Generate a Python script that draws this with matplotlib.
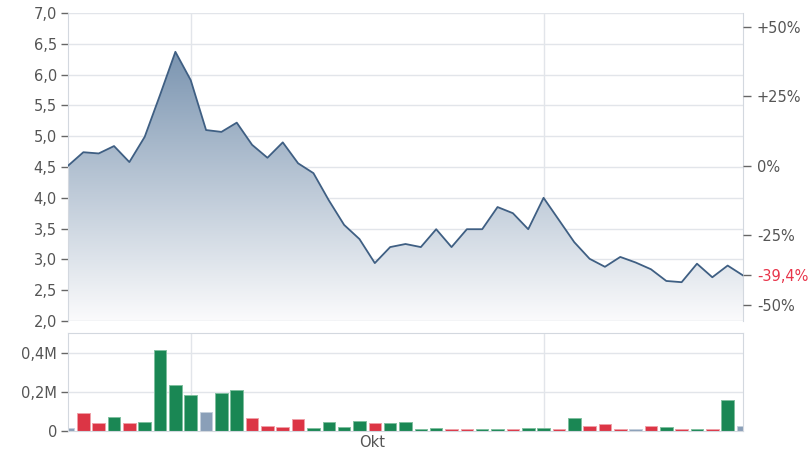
import matplotlib
matplotlib.use("Agg")
import matplotlib.pyplot as plt
import numpy as np
from matplotlib.colors import LinearSegmentedColormap
from matplotlib.patches import Polygon

prices = [4.52, 4.74, 4.72, 4.84, 4.58, 4.99, 5.67, 6.37, 5.91, 5.10,
          5.07, 5.22, 4.86, 4.65, 4.90, 4.56, 4.40, 3.96, 3.56, 3.33,
          2.94, 3.20, 3.25, 3.20, 3.49, 3.20, 3.49, 3.49, 3.85, 3.75,
          3.49, 4.00, 3.64, 3.28, 3.01, 2.88, 3.04, 2.95, 2.84, 2.65,
          2.63, 2.93, 2.71, 2.90, 2.74]
volumes = [0.014, 0.090, 0.039, 0.069, 0.039, 0.046, 0.411, 0.234, 0.186, 0.096,
           0.196, 0.209, 0.064, 0.027, 0.020, 0.059, 0.014, 0.046, 0.020, 0.052,
           0.039, 0.039, 0.046, 0.010, 0.015, 0.010, 0.010, 0.010, 0.010, 0.010,
           0.015, 0.015, 0.010, 0.064, 0.027, 0.034, 0.010, 0.008, 0.027, 0.020,
           0.010, 0.010, 0.010, 0.160, 0.027]
vol_dirs = ['n', 'r', 'r', 'g', 'r', 'g', 'g', 'g', 'g', 'n',
            'g', 'g', 'r', 'r', 'r', 'r', 'g', 'g', 'g', 'g',
            'r', 'g', 'g', 'g', 'g', 'r', 'r', 'g', 'g', 'r',
            'g', 'g', 'r', 'g', 'r', 'r', 'r', 'n', 'r', 'g',
            'r', 'g', 'r', 'g', 'n']
pct_ticks = [0.50, 0.25, 0.0, -0.25, -0.394, -0.50]
pct_labels = ['+50%', '+25%', '0%', '-25%', '-39,4%', '-50%']
price_ticks = [2.0, 2.5, 3.0, 3.5, 4.0, 4.5, 5.0, 5.5, 6.0, 6.5, 7.0]
vol_ticks = [0, 0.2, 0.4]
vol_labels = ['0', '0,2M', '0,4M']
month_label = 'Okt'
month_pos = 19.8
vgrid_pos = [8, 31]

base = prices[0]
x = np.arange(len(prices))
grid_c = '#e2e5ea'
spine_c = '#d3d8df'
text_c = '#555555'
colmap = {'g': '#1a8754', 'r': '#dc3545', 'n': '#8a9fb8'}
edgemap = {'g': '#7fbf9f', 'r': '#f0a0a8', 'n': '#c5d0dc'}

fig = plt.figure(figsize=(8.12, 4.62), dpi=100)
ax = fig.add_axes([68/812, 1-321/462, (743-68)/812, (321-13)/462])
axv = fig.add_axes([68/812, 1-431/462, (743-68)/812, (431-333)/462])

# price panel
ax.set_xlim(0, len(prices)-1)
ax.set_ylim(2.0, 7.0)
for yv in price_ticks:
    ax.axhline(yv, color=grid_c, lw=1, zorder=0)
for xv in vgrid_pos:
    ax.axvline(xv, color=grid_c, lw=1, zorder=0)

cmap = LinearSegmentedColormap.from_list('g', ['#fbfbfc', '#7a94b0'])
grad = np.linspace(0, 1, 256).reshape(-1, 1)
im = ax.imshow(grad, extent=[0, len(prices)-1, 2.0, 6.4], origin='lower',
               aspect='auto', cmap=cmap, zorder=1)
verts = np.vstack([np.column_stack([x, prices]), [[x[-1], 2.0], [0, 2.0]]])
clip = Polygon(verts, closed=True, transform=ax.transData, facecolor='none', edgecolor='none')
ax.add_patch(clip)
im.set_clip_path(clip)
ax.plot(x, prices, color='#3f5f83', lw=1.3, zorder=3)
ax.set_ylim(2.0, 7.0)
ax.set_xlim(0, len(prices)-1)

ax.set_yticks(price_ticks)
ax.set_yticklabels([f'{v:.1f}'.replace('.', ',') for v in price_ticks])
ax.set_xticks([])
for s in ['top', 'bottom']:
    ax.spines[s].set_visible(False)
for s in ['left', 'right']:
    ax.spines[s].set_color(spine_c)
ax.axhline(2.0, color=spine_c, lw=1, zorder=4)
ax.tick_params(axis='y', colors='#666666', labelcolor=text_c, labelsize=10.5, length=5, width=1, pad=3)

ax2 = ax.twinx()
ax2.set_ylim(2.0, 7.0)
ax2.set_yticks([base*(1+p) for p in pct_ticks])
ax2.set_yticklabels(pct_labels)
ax2.tick_params(axis='y', colors='#666666', labelcolor=text_c, labelsize=10.5, length=6, width=1, pad=4)
for lbl in ax2.get_yticklabels():
    if lbl.get_text() == '-39,4%':
        lbl.set_color('#e8344a')
for s in ax2.spines.values():
    s.set_visible(False)

# volume panel
axv.set_xlim(0, len(prices)-1)
axv.set_ylim(0, 0.5)
for yv in vol_ticks[1:]:
    axv.axhline(yv, color=grid_c, lw=1, zorder=0)
for xv in vgrid_pos:
    axv.axvline(xv, color=grid_c, lw=1, zorder=0)
axv.bar(x, volumes, width=0.82, color=[colmap[d] for d in vol_dirs],
        edgecolor=[edgemap[d] for d in vol_dirs], linewidth=0.7, zorder=2)
axv.set_yticks(vol_ticks)
axv.set_yticklabels(vol_labels)
axv.set_xticks([month_pos])
axv.set_xticklabels([month_label])
axv.tick_params(axis='x', length=0, labelcolor=text_c, labelsize=10.5, pad=3)
axv.tick_params(axis='y', colors='#666666', labelcolor=text_c, labelsize=10.5, length=5, width=1, pad=3)
for s in axv.spines.values():
    s.set_color(spine_c)

fig.savefig('out.png', dpi=100)
